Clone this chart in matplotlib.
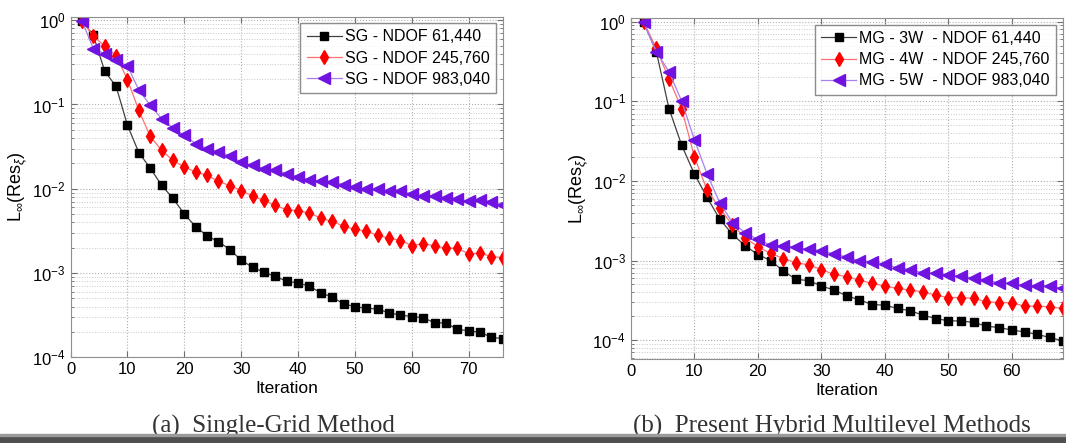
# convergence histories, single-grid vs hybrid multilevel
import numpy as np
import matplotlib.pyplot as plt
import matplotlib.patches as mpatches

plt.rcParams['font.family'] = ['Liberation Sans', 'DejaVu Sans']
plt.rcParams['mathtext.fontset'] = 'custom'
plt.rcParams['mathtext.rm'] = 'Liberation Sans'
plt.rcParams['mathtext.it'] = 'Liberation Sans:italic'

# ---- data ----
it_sg = np.arange(2, 78, 2)
sg_61440 = [0.98, 0.66, 0.248, 0.164, 0.0566, 0.0268, 0.0176, 0.011, 0.0077, 0.005,
            0.00354, 0.00277, 0.00235, 0.0019, 0.00142, 0.00117, 0.00102, 0.00091, 0.0008, 0.00076,
            0.0007, 0.00058, 0.00052, 0.00043, 0.0004, 0.00038, 0.000375, 0.000336, 0.000318, 0.000304,
            0.000295, 0.000257, 0.000255, 0.000215, 0.000206, 0.000198, 0.000173, 0.000166]
sg_245760 = [0.98, 0.65, 0.49, 0.38, 0.197, 0.085, 0.042, 0.0285, 0.0217, 0.0181,
             0.0158, 0.0144, 0.0122, 0.0109, 0.0095, 0.0082, 0.00727, 0.00634, 0.00563, 0.0055,
             0.00514, 0.00448, 0.00409, 0.0036, 0.00329, 0.00314, 0.00279, 0.0026, 0.00243, 0.00212,
             0.00223, 0.0021, 0.00197, 0.00197, 0.00169, 0.00172, 0.00157, 0.00152]
sg_983040 = [0.98, 0.46, 0.40, 0.335, 0.287, 0.148, 0.098, 0.068, 0.0526, 0.043,
             0.0343, 0.0299, 0.0273, 0.0245, 0.0207, 0.0189, 0.0173, 0.0165, 0.0151, 0.0138,
             0.0126, 0.0123, 0.012, 0.0112, 0.0105, 0.0098, 0.0098, 0.0093, 0.0093, 0.0087,
             0.0081, 0.0081, 0.0078, 0.0076, 0.0071, 0.0073, 0.007, 0.0065]

it_mg = np.arange(2, 70, 2)
mg_3w = [0.98, 0.42, 0.081, 0.028, 0.0122, 0.0062, 0.0033, 0.00213, 0.00153, 0.00119,
         0.001, 0.00074, 0.00058, 0.00056, 0.00048, 0.000425, 0.00036, 0.00032, 0.00028, 0.000275,
         0.00025, 0.000234, 0.000206, 0.000187, 0.000175, 0.000174, 0.000167, 0.00015, 0.000144, 0.000134,
         0.000127, 0.000118, 0.000108, 0.000098]
mg_4w = [1.0, 0.46, 0.19, 0.081, 0.02, 0.0077, 0.0045, 0.0028, 0.00193, 0.00149,
         0.00123, 0.00106, 0.00094, 0.00088, 0.00077, 0.00067, 0.000625, 0.000567, 0.000515, 0.00048,
         0.000446, 0.000425, 0.000405, 0.000367, 0.000343, 0.000343, 0.000334, 0.000303, 0.000297, 0.000295,
         0.000267, 0.000267, 0.000262, 0.00025]
mg_5w = [0.98, 0.42, 0.235, 0.1, 0.033, 0.0122, 0.0053, 0.003, 0.00223, 0.00184,
         0.00156, 0.00152, 0.00146, 0.00138, 0.00133, 0.0012, 0.00111, 0.00099, 0.00097, 0.0009,
         0.00081, 0.00077, 0.0007, 0.0007, 0.00066, 0.00064, 0.000596, 0.000567, 0.000525, 0.000515,
         0.00049, 0.00048, 0.00048, 0.000446]

sg_labels = ['SG - NDOF 61,440', 'SG - NDOF 245,760', 'SG - NDOF 983,040']
mg_labels = ['MG - 3W  - NDOF 61,440', 'MG - 4W  - NDOF 245,760', 'MG - 5W  - NDOF 983,040']

# styles: marker, marker colour, line colour, size
styles = [('s', 'black', '#404040', 6),
          ('d', '#ff0000', '#ff7070', 7.5),
          ('<', '#7012e0', '#a880f0', 8.5)]

W, H = 1066, 443
fig = plt.figure(figsize=(W / 100, H / 100), dpi=100)

def make_ax(l, r, t, b):
    return fig.add_axes([l / W, 1 - b / H, (r - l) / W, (b - t) / H])

ax1 = make_ax(70.6, 502.8, 16.7, 357.3)
ax2 = make_ax(630.9, 1062.6, 18.3, 359.0)

def style_ax(ax, xmax, ymin, labels, series, xs):
    for (m, mc, lc, ms), y, lab in zip(styles, series, labels):
        ax.plot(xs, y, color=lc, lw=0.9, marker=m, ms=ms, mfc=mc, mec=mc, label=lab)
    ax.set_yscale('log')
    ax.set_xlim(0, xmax)
    ax.set_ylim(ymin, 1.1)
    ax.set_xticks(np.arange(0, xmax, 10))
    ax.grid(True, which='major', ls=':', color='#b0b0b0', lw=0.8)
    ax.grid(True, which='minor', axis='y', ls=':', color='#c8c8c8', lw=0.7)
    ax.tick_params(which='both', direction='in', top=True, right=True, labelsize=12,
                   color='#707070', length=4)
    ax.tick_params(which='minor', length=2)
    for s in ax.spines.values():
        s.set_color('#909090')
    ax.set_xlabel('Iteration', fontsize=12.5, labelpad=3)
    ax.set_ylabel(r'L$_{\infty}$(Res$_{\xi}$)', fontsize=13, labelpad=2)
    leg = ax.legend(loc='upper right', fontsize=11.5, frameon=True, fancybox=False,
                    edgecolor='#707070', handlelength=2.2, handletextpad=0.2,
                    borderpad=0.4, labelspacing=0.38, borderaxespad=0.4)
    leg.get_frame().set_linewidth(1.0)

style_ax(ax1, 76, 1e-4, sg_labels, [sg_61440, sg_245760, sg_983040], it_sg)
style_ax(ax2, 68, 5.8e-5, mg_labels, [mg_3w, mg_4w, mg_5w], it_mg)

# captions, partly covered by the band at the bottom
fig.text(152 / W, 1 - 433 / H, '(a)  Single-Grid Method', fontsize=18,
         family=['Liberation Serif', 'DejaVu Serif'], ha='left', va='baseline', color='#333333')
fig.text(633 / W, 1 - 433 / H, '(b)  Present Hybrid Multilevel Methods', fontsize=18,
         family=['Liberation Serif', 'DejaVu Serif'], ha='left', va='baseline', color='#333333')
fig.patches.append(mpatches.Rectangle((0, 0), 1, 7 / H, transform=fig.transFigure,
                                      color='#505050', zorder=5))
fig.patches.append(mpatches.Rectangle((0, 7 / H), 1, 2 / H, transform=fig.transFigure,
                                      color='#9a9a9a', zorder=5))

fig.savefig('out.png', dpi=100)
